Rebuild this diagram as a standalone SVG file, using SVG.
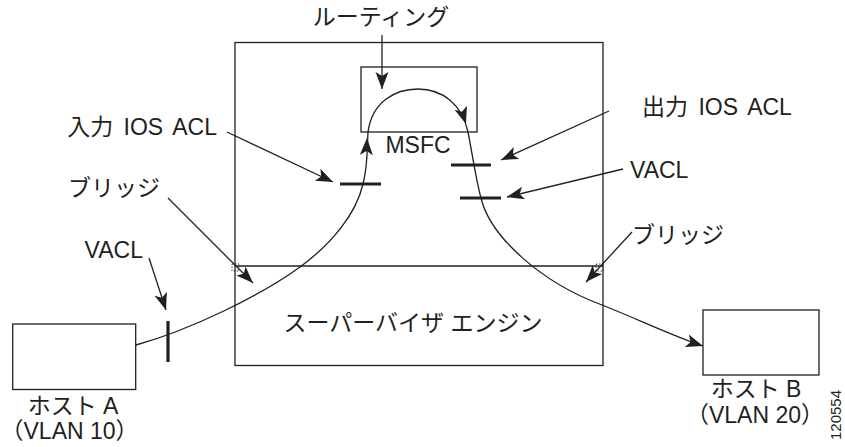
<svg xmlns="http://www.w3.org/2000/svg" width="845" height="447" viewBox="0 0 845 447">
<style>
.box{fill:none;stroke:#231f20;stroke-width:1.3}
.ln{fill:none;stroke:#231f20;stroke-width:1.3}
.bar{stroke:#231f20;stroke-width:3.2;fill:none}
.lead{fill:none;stroke:#231f20;stroke-width:1.3;marker-end:url(#arr)}
.t{font-family:"Liberation Sans","Noto Sans CJK JP",sans-serif;font-size:23px;fill:#231f20}
.m{text-anchor:middle}
.e{text-anchor:end}
.ws{word-spacing:4px}
.dash{fill:none;stroke:#231f20;stroke-width:0.8;stroke-dasharray:1.5 1.5}
</style>
<defs>
<marker id="arr" markerUnits="userSpaceOnUse" markerWidth="20" markerHeight="16" viewBox="-18 -8 20 16" refX="0" refY="0" orient="auto">
<path d="M0,0 L-17,-6.5 L-13,0 L-17,6.5 Z" fill="#231f20"/>
</marker>
<path id="ah" d="M0,0 L-17,-6.5 L-13,0 L-17,6.5 Z" fill="#231f20"/>
</defs>

<g id="supervisor">
<rect class="box" x="235" y="42.5" width="368" height="323"/>
<line class="ln" x1="235" y1="266" x2="603" y2="266"/>
<rect class="dash" x="232" y="264" width="7" height="7"/>
<rect class="dash" x="596" y="264" width="7" height="7"/>
<text class="t m" x="413" y="331">スーパーバイザ エンジン</text>
</g>

<g id="msfc">
<rect class="box" x="361" y="67" width="116" height="65"/>
<text class="t m" x="418" y="153">MSFC</text>
</g>

<g id="hostA">
<rect class="box" x="12.7" y="324" width="123" height="65.5"/>
<text class="t m" x="73" y="414">ホスト A</text>
<text class="t" x="0.5" y="439">（VLAN 10）</text>
</g>

<g id="hostB">
<rect class="box" x="703" y="310" width="116" height="65"/>
<text class="t m" x="756" y="397">ホスト B</text>
<text class="t m" x="755" y="423">（VLAN 20）</text>
</g>

<g id="labels">
<text class="t m" x="381" y="25">ルーティング</text>
<text class="t e ws" x="217" y="135">入力 IOS ACL</text>
<text class="t" x="68" y="196">ブリッジ</text>
<text class="t e" x="143" y="258">VACL</text>
<text class="t ws" x="642" y="115">出力 IOS ACL</text>
<text class="t" x="630" y="178">VACL</text>
<text class="t" x="632" y="243">ブリッジ</text>
<text font-family="'Liberation Sans',sans-serif" font-size="15" fill="#231f20" text-anchor="middle" transform="translate(841,415) rotate(-90)">120554</text>
</g>

<g id="acls">
<line class="bar" x1="340" y1="184" x2="381" y2="184"/>
<line class="bar" x1="451" y1="165" x2="491" y2="165"/>
<line class="bar" x1="460" y1="198" x2="501" y2="198"/>
<line class="bar" x1="168" y1="321" x2="168" y2="362"/>
</g>

<g id="connectors">
<path class="ln" d="M136,345 C190,330 260,296 300,267 C330,245 356,215 363,184 C368,165 367,148 368,132 C372,102 395,89 418,89 C442,89 462,104 468,132 C472,152 476,180 481,198 C490,236 540,282 602,305 C640,320 672,336 703,346"/>
<use href="#ah" transform="translate(367,138) rotate(-88)"/>
<use href="#ah" transform="translate(466,124) rotate(72)"/>
<use href="#ah" transform="translate(703,346) rotate(18)"/>
<line class="lead" x1="382" y1="35" x2="382" y2="89"/>
<line class="lead" x1="227" y1="132" x2="333" y2="182"/>
<line class="lead" x1="168" y1="198" x2="253" y2="283"/>
<line class="lead" x1="149" y1="258" x2="166" y2="310"/>
<line class="lead" x1="609" y1="111" x2="501" y2="160"/>
<line class="lead" x1="623" y1="169" x2="507" y2="197"/>
<line class="lead" x1="632" y1="232" x2="586" y2="282"/>
</g>
</svg>
